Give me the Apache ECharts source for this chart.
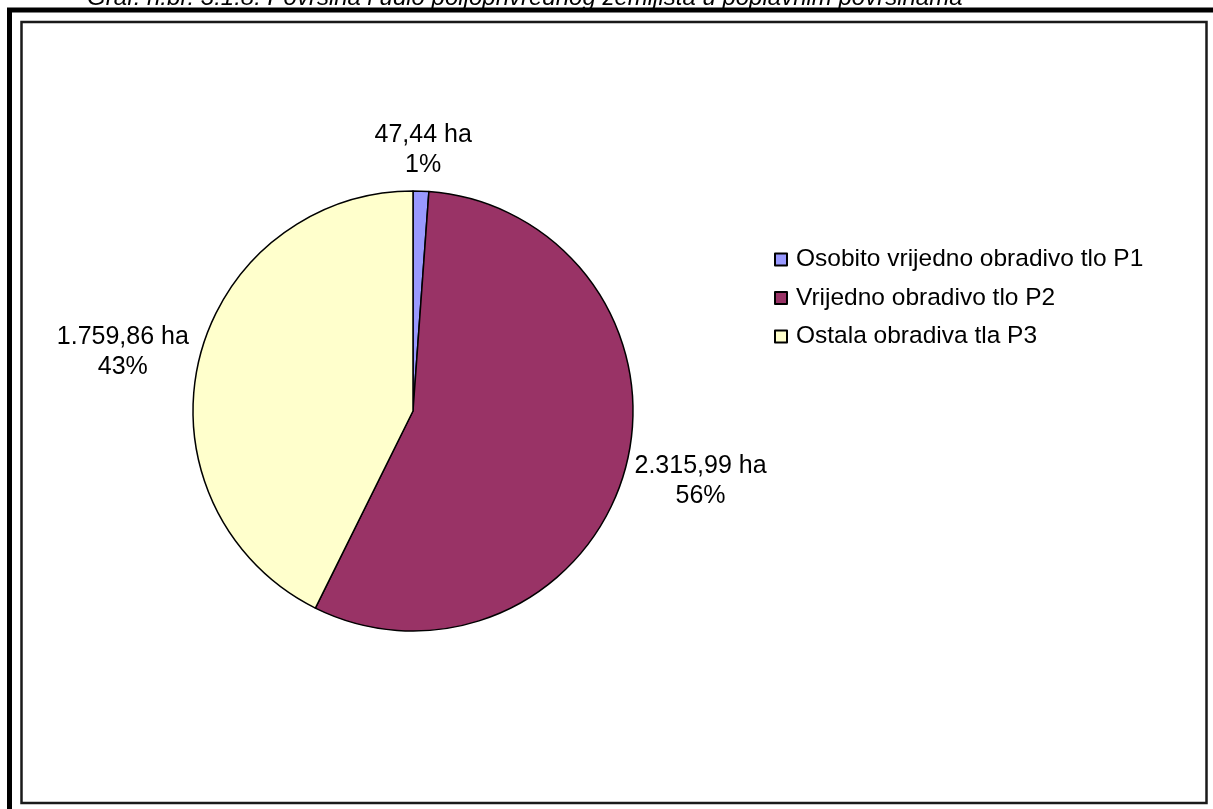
<!DOCTYPE html>
<html>
<head>
<meta charset="utf-8">
<script src="https://cdn.jsdelivr.net/npm/echarts@6/dist/echarts.min.js"></script>
<style>
html,body{margin:0;padding:0;background:#fff;}
#chart{width:1213px;height:809px;}
</style>
</head>
<body>
<div id="chart"></div>
<script>
const titleText = 'Graf. n.br. 3.1.8. Površina i udio poljoprivrednog zemljišta u poplavnim površinama';
const categories = ['Osobito vrijedno obradivo tlo P1', 'Vrijedno obradivo tlo P2', 'Ostala obradiva tla P3'];
const values = [47.44, 2315.99, 1759.86];
const colors = ['#9999FF', '#993366', '#FFFFCC'];

function fmtHr(v) {
  const parts = v.toFixed(2).split('.');
  const intPart = parts[0].replace(/\B(?=(\d{3})+(?!\d))/g, '.');
  return intPart + ',' + parts[1];
}

const chart = echarts.init(document.getElementById('chart'), null, {renderer: 'canvas'});
const FONT = 'Arial, "Liberation Sans", sans-serif';

chart.setOption({
  backgroundColor: '#ffffff',
  animation: false,
  color: colors,
  graphic: [
    {type: 'rect', silent: true, shape: {x: 9.5, y: 10, width: 1400, height: 1000},
      style: {fill: 'none', stroke: '#000', lineWidth: 5}},
    {type: 'rect', silent: true, shape: {x: 21.5, y: 22, width: 1185, height: 781},
      style: {fill: 'none', stroke: '#1a1a1a', lineWidth: 2.5}},
    {type: 'text', silent: true, x: 87, y: 10,
      style: {text: titleText, font: 'italic 24px ' + FONT, fill: '#000', verticalAlign: 'bottom', align: 'left'}}
  ],
  legend: {
    orient: 'vertical',
    left: 769,
    top: 242,
    itemWidth: 12,
    itemHeight: 12,
    itemGap: 13.5,
    icon: 'rect',
    data: categories,
    textStyle: {fontFamily: FONT, fontSize: 24.5, color: '#000', padding: [0, 0, 0, 4]}
  },
  series: [{
    type: 'pie',
    center: [413, 411],
    radius: 220,
    startAngle: 90,
    clockwise: true,
    avoidLabelOverlap: false,
    itemStyle: {borderColor: '#000', borderWidth: 1.5},
    emphasis: {disabled: true},
    label: {
      show: true,
      position: 'outside',
      fontFamily: FONT,
      fontSize: 25,
      lineHeight: 30,
      color: '#000',
      formatter: function (p) { return fmtHr(p.value) + ' ha\n' + Math.round(p.percent) + '%'; }
    },
    labelLine: {show: true, length: 12, length2: 0, lineStyle: {opacity: 0, width: 0}},
    labelLayout: function (params) {
      const pts = params.labelLinePoints;
      if (!pts) return {};
      const p0 = pts[0], p1 = pts[1];
      let dx = p1[0] - p0[0], dy = p1[1] - p0[1];
      const len = Math.sqrt(dx * dx + dy * dy) || 1;
      dx /= len; dy /= len;
      const hw = params.labelRect.width / 2, hh = params.labelRect.height / 2;
      return {
        x: p1[0] + dx * hw,
        y: p1[1] + dy * hh + 1,
        align: 'center',
        verticalAlign: 'middle'
      };
    },
    data: categories.map((c, i) => ({name: c, value: values[i]}))
  }]
});
</script>
</body>
</html>
